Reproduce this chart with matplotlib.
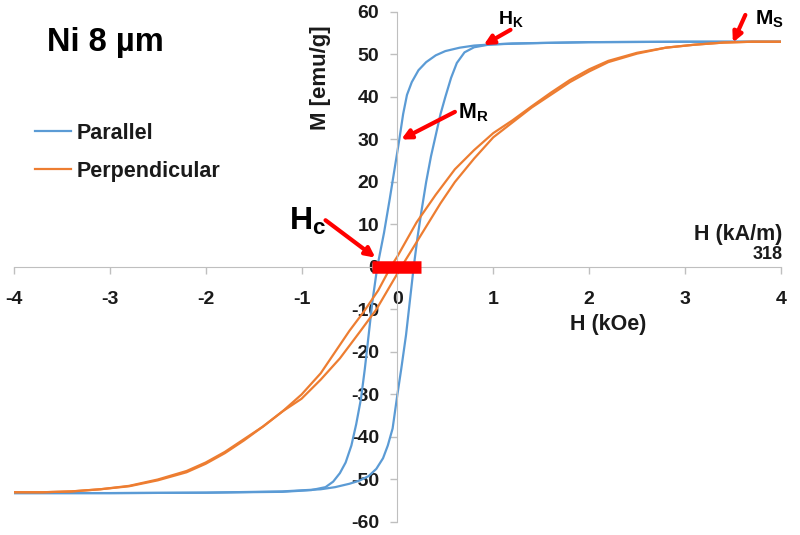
import matplotlib
matplotlib.use("Agg")
import matplotlib.pyplot as plt

plt.rcParams['font.family'] = ['Liberation Sans', 'DejaVu Sans']
plt.rcParams['axes.unicode_minus'] = False
plt.rcParams['mathtext.fontset'] = 'custom'
plt.rcParams['mathtext.bf'] = 'Liberation Sans:bold'
plt.rcParams['mathtext.rm'] = 'Liberation Sans'

# Parallel loop (H in kOe, M in emu/g)
par_down_h = [4.0, 3.0, 2.0, 1.5, 1.0, 0.8, 0.65, 0.5, 0.4, 0.3, 0.22, 0.15, 0.1, 0.06,
              0.02, -0.03, -0.08, -0.14, -0.21, -0.26, -0.3, -0.34, -0.38, -0.43, -0.48,
              -0.54, -0.6, -0.67, -0.75, -0.9, -1.2, -2.0, -3.0, -4.0]
par_down_m = [53.0, 53.0, 52.9, 52.7, 52.4, 52.1, 51.6, 50.8, 49.8, 48.2, 46.3, 43.5, 40.5, 36.0,
              30.0, 23.0, 16.0, 8.0, 0.0, -8.0, -16.0, -24.0, -31.0, -37.0, -42.0,
              -46.0, -48.5, -50.5, -51.8, -52.5, -52.9, -53.1, -53.2, -53.2]
par_up_h = [-4.0, -3.0, -2.0, -1.2, -0.8, -0.65, -0.5, -0.4, -0.3, -0.22, -0.15, -0.1, -0.05,
            0.0, 0.04, 0.09, 0.13, 0.17, 0.21, 0.25, 0.3, 0.35, 0.4, 0.45, 0.5, 0.56, 0.62,
            0.7, 0.8, 0.95, 1.2, 2.0, 3.0, 4.0]
par_up_m = [-53.2, -53.2, -53.1, -52.8, -52.3, -51.8, -51.0, -50.3, -49.2, -47.5, -45.0, -42.0, -38.0,
            -30.0, -24.0, -16.0, -8.0, 0.0, 7.0, 13.0, 20.0, 26.0, 31.0, 36.0, 40.0, 44.5, 48.0,
            50.5, 51.7, 52.3, 52.6, 52.9, 53.0, 53.0]

# Perpendicular loop
per_down_h = [4.0, 3.7, 3.4, 3.1, 2.8, 2.5, 2.2, 2.0, 1.8, 1.6, 1.4, 1.2, 1.0, 0.8, 0.6, 0.4,
              0.2, 0.0, -0.07, -0.2, -0.35, -0.5, -0.65, -0.8, -1.0, -1.2, -1.4, -1.6, -1.8,
              -2.0, -2.2, -2.5, -2.8, -3.1, -3.4, -3.7, -4.0]
per_down_m = [53.0, 53.0, 52.8, 52.3, 51.6, 50.4, 48.5, 46.5, 44.0, 41.0, 37.8, 34.5, 31.5, 27.5,
              23.0, 17.0, 10.5, 2.5, 0.0, -5.5, -10.5, -15.0, -20.0, -25.0, -30.0, -34.0, -37.5,
              -40.5, -43.5, -46.0, -48.0, -50.0, -51.5, -52.3, -52.8, -53.0, -53.0]
per_up_h = [-4.0, -3.7, -3.4, -3.1, -2.8, -2.5, -2.2, -2.0, -1.8, -1.6, -1.4, -1.2, -1.0, -0.8,
            -0.6, -0.4, -0.22, 0.04, 0.15, 0.3, 0.45, 0.6, 0.8, 1.0, 1.2, 1.4, 1.6, 1.8, 2.0,
            2.2, 2.5, 2.8, 3.1, 3.4, 3.7, 4.0]
per_up_m = [-53.0, -53.0, -52.8, -52.3, -51.6, -50.2, -48.3, -46.3, -43.8, -40.8, -37.5, -34.0,
            -31.0, -26.5, -21.5, -15.5, -10.0, 0.0, 4.0, 9.5, 15.0, 20.0, 25.5, 30.5, 34.0,
            37.5, 40.5, 43.5, 46.0, 48.2, 50.2, 51.6, 52.3, 52.8, 53.0, 53.0]

x_ticks = [-4, -3, -2, -1, 0, 1, 2, 3, 4]
y_ticks = [-60, -50, -40, -30, -20, -10, 0, 10, 20, 30, 40, 50, 60]
hc_bar = [-0.26, 0.25]

blue = '#5B9BD5'
orange = '#ED7D31'
red = '#FF0000'
txt = '#1a1a1a'

fig = plt.figure(figsize=(8, 5.35), dpi=100)
ax = fig.add_axes([0.0175, 0.0243, 0.9585, 0.9533])

ax.plot(par_down_h, par_down_m, color=blue, lw=1.6, label='Parallel')
ax.plot(par_up_h, par_up_m, color=blue, lw=1.6)
ax.plot(per_down_h, per_down_m, color=orange, lw=1.6, label='Perpendicular')
ax.plot(per_up_h, per_up_m, color=orange, lw=1.6)

ax.set_xlim(-4, 4)
ax.set_ylim(-60, 60)
ax.set_xticks(x_ticks)
ax.set_yticks(y_ticks)

for s in ['top', 'right']:
    ax.spines[s].set_visible(False)
ax.spines['left'].set_position(('data', 0))
ax.spines['bottom'].set_position(('data', 0))
ax.spines['left'].set_color('#bfbfbf')
ax.spines['bottom'].set_color('#bfbfbf')
ax.tick_params(axis='both', direction='out', length=5, color='#bfbfbf', width=1,
               labelsize=14, labelcolor=txt)
ax.tick_params(axis='y', pad=8)
ax.tick_params(axis='x', pad=12)
for lab in ax.get_xticklabels() + ax.get_yticklabels():
    lab.set_fontweight('bold')

# red Hc bar
ax.plot(hc_bar, [0, 0], color=red, lw=9, solid_capstyle='butt', zorder=5)

# titles / labels
fig.text(0.059, 0.92, 'Ni 8 µm', fontsize=23.5, fontweight='bold', color='black', va='center')
ax.text(-0.8, 44.5, 'M [emu/g]', rotation=90, fontsize=16, fontweight='bold', ha='center',
        va='center', color=txt)
ax.text(2.2, -13.6, 'H (kOe)', fontsize=15.5, fontweight='bold', ha='center', va='center', color=txt)
ax.text(4.02, 7.6, 'H (kA/m)', fontsize=15.5, fontweight='bold', ha='right', va='center', color=txt)
ax.text(4.02, 2.9, '318', fontsize=13, fontweight='bold', ha='right', va='center', color=txt)

# annotations
arrow = dict(arrowstyle='-|>', color=red, lw=3, mutation_scale=14, shrinkA=0, shrinkB=0)
ax.annotate('', xy=(-0.23, 2.2), xytext=(-0.75, 11.0), arrowprops=arrow)
ax.text(-0.74, 8.7, r'$\mathbf{H_c}$', fontsize=23, ha='right', va='baseline', color='black')
ax.annotate('', xy=(0.04, 30.0), xytext=(0.6, 36.5), arrowprops=arrow)
ax.text(0.63, 36.3, r'$\mathbf{M_R}$', fontsize=15.5, ha='left', va='center', color='black')
ax.annotate('', xy=(0.9, 52.2), xytext=(1.18, 55.8), arrowprops=arrow)
ax.text(1.05, 58.3, r'$\mathbf{H_K}$', fontsize=14, ha='left', va='center', color='black')
ax.annotate('', xy=(3.5, 52.8), xytext=(3.63, 59.3), arrowprops=arrow)
ax.text(3.73, 58.3, r'$\mathbf{M_S}$', fontsize=15, ha='left', va='center', color='black')

leg = ax.legend(loc='upper left', bbox_to_anchor=(0.019, 0.807), bbox_transform=fig.transFigure,
                frameon=False, handlelength=1.7, handletextpad=0.25, labelspacing=0.8,
                prop={'weight': 'bold', 'size': 15.5})
for t in leg.get_texts():
    t.set_color(txt)

fig.savefig('out.png', dpi=100)
